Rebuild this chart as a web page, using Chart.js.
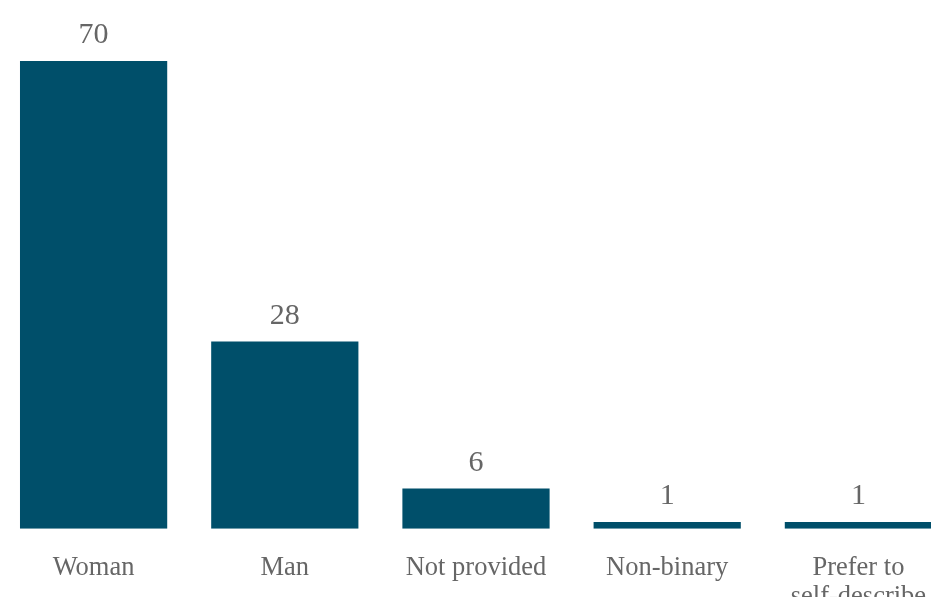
<!DOCTYPE html>
<html>
<head>
<meta charset="utf-8">
<script src="https://cdn.jsdelivr.net/npm/chart.js@4.4.0/dist/chart.umd.min.js"></script>
<style>
  html, body { margin: 0; padding: 0; background: #fff; overflow: hidden; }
  #wrap { position: absolute; left: -2px; top: 0; width: 956px; height: 637px; }
</style>
</head>
<body>
<div id="wrap"><canvas id="genderChart"></canvas></div>
<script>
const categories = ["Woman", "Man", "Not provided", "Non-binary", ["Prefer to", "self-describe"]];
const counts = [70, 28, 6, 1, 1];

const barColor = "#004f6a";
const textColor = "#666666";
const fontFamily = "'Liberation Serif', 'Times New Roman', serif";

// draws the count above each bar
const valueLabels = {
  id: "valueLabels",
  afterDatasetsDraw(chart) {
    const ctx = chart.ctx;
    const meta = chart.getDatasetMeta(0);
    ctx.save();
    ctx.font = "30px " + fontFamily;
    ctx.fillStyle = textColor;
    ctx.textAlign = "center";
    ctx.textBaseline = "alphabetic";
    meta.data.forEach((bar, i) => {
      ctx.fillText(String(counts[i]), bar.x, bar.y - 18);
    });
    ctx.restore();
  }
};

new Chart(document.getElementById("genderChart"), {
  type: "bar",
  data: {
    labels: categories,
    datasets: [{
      data: counts,
      backgroundColor: barColor,
      categoryPercentage: 1,
      barPercentage: 0.77
    }]
  },
  options: {
    responsive: true,
    maintainAspectRatio: false,
    animation: false,
    layout: { padding: { top: 61, left: 0, right: 0, bottom: 0 } },
    plugins: {
      legend: { display: false },
      tooltip: { enabled: false }
    },
    scales: {
      x: {
        grid: { display: false, drawTicks: false },
        border: { display: false },
        ticks: {
          color: textColor,
          font: { family: fontFamily, size: 26.5, lineHeight: 1.1 },
          padding: 25,
          maxRotation: 0,
          autoSkip: false
        }
      },
      y: {
        display: false,
        min: 0,
        max: 70
      }
    }
  },
  plugins: [valueLabels]
});
</script>
</body>
</html>
